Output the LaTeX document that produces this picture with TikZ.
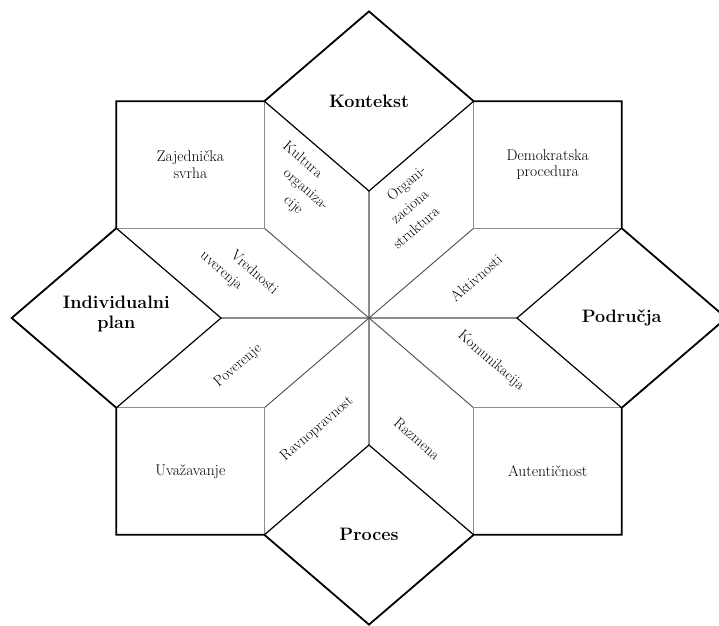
\documentclass[tikz,border=0pt]{standalone}
\begin{document}
\begin{tikzpicture}[
        x=148pt, y=127pt,
        outline/.style={draw=black, line width=1.8pt, line join=miter},
        inneredge/.style={draw=black, line width=1.2pt},
        axisline/.style={draw=black!45, line width=1.1pt},
        spoke/.style={draw=black!70, line width=0.9pt},
        boldlabel/.style={font=\bfseries\fontsize{18}{20}\selectfont, align=center},
        boxlabel/.style={font=\fontsize{15.5}{16.5}\selectfont, align=center},
        petal/.style={font=\fontsize{15}{20}\selectfont, align=left, inner sep=0pt},
        ]
        \useasboundingbox (-369pt,-307pt) rectangle (350pt,318pt);
        \def\dg{0.7071}

        % Points of the star
        \coordinate (C) at (0,0);
        \coordinate (N1) at (0,1);
        \coordinate (E1) at (1,0);
        \coordinate (S1) at (0,-1);
        \coordinate (W1) at (-1,0);
        \coordinate (NE) at ({\dg},{\dg});
        \coordinate (SE) at ({\dg},{-\dg});
        \coordinate (SW) at ({-\dg},{-\dg});
        \coordinate (NW) at ({-\dg},{\dg});
        \coordinate (NNE) at ({\dg},{1+\dg});
        \coordinate (ENE) at ({1+\dg},{\dg});
        \coordinate (ESE) at ({1+\dg},{-\dg});
        \coordinate (SSE) at ({\dg},{-1-\dg});
        \coordinate (SSW) at ({-\dg},{-1-\dg});
        \coordinate (WSW) at ({-1-\dg},{-\dg});
        \coordinate (WNW) at ({-1-\dg},{\dg});
        \coordinate (NNW) at ({-\dg},{1+\dg});
        \coordinate (Ntip) at (0,{1+2*\dg});
        \coordinate (Etip) at ({1+2*\dg},0);
        \coordinate (Stip) at (0,{-1-2*\dg});
        \coordinate (Wtip) at ({-1-2*\dg},0);
        \coordinate (NEc) at ({1+\dg},{1+\dg});
        \coordinate (SEc) at ({1+\dg},{-1-\dg});
        \coordinate (SWc) at ({-1-\dg},{-1-\dg});
        \coordinate (NWc) at ({-1-\dg},{1+\dg});

        % Inner lines
        \foreach \p in {N1,E1,S1,W1} \draw[axisline] (C) -- (\p);
        \foreach \p in {NE,SE,SW,NW} \draw[spoke] (C) -- (\p);
        \draw[axisline] (NNE) -- (NE) -- (ENE);
        \draw[axisline] (ESE) -- (SE) -- (SSE);
        \draw[axisline] (SSW) -- (SW) -- (WSW);
        \draw[axisline] (WNW) -- (NW) -- (NNW);

        % Diamonds
        \draw[inneredge] (NNW) -- (N1) -- (NNE);
        \draw[inneredge] (ENE) -- (E1) -- (ESE);
        \draw[inneredge] (SSE) -- (S1) -- (SSW);
        \draw[inneredge] (WSW) -- (W1) -- (WNW);

        % Outline
        \draw[outline] (Ntip) -- (NNE) -- (NEc) -- (ENE) -- (Etip) -- (ESE)
            -- (SEc) -- (SSE) -- (Stip) -- (SSW) -- (SWc) -- (WSW)
            -- (Wtip) -- (WNW) -- (NWc) -- (NNW) -- cycle;

        % Diamond labels
        \node[boldlabel] (kontekst) at (0,{1+\dg}) {Kontekst};
        \node[boldlabel] (podrucja) at ({1+\dg},0) {Područja};
        \node[boldlabel] (proces) at (0,{-1-\dg}) {Proces};
        \node[boldlabel, yshift=4pt] (plan) at ({-1-\dg},0) {Individualni\\plan};

        % Square labels
        \node[boxlabel] (svrha) at ({-0.5-\dg},{0.5+\dg}) {Zajednička\\svrha};
        \node[boxlabel] (procedura) at ({0.5+\dg},{0.5+\dg}) {Demokratska\\procedura};
        \node[boxlabel] (uvazavanje) at ({-0.5-\dg},{-0.5-\dg}) {Uvažavanje};
        \node[boxlabel] (autenticnost) at ({0.5+\dg},{-0.5-\dg}) {Autentičnost};

        % Petal labels
        \node[petal, rotate=-41] (kultura) at (-70pt,134pt)
            {Kultura\\\hspace*{18pt}organiza-\\\hspace*{36pt}cije};
        \node[petal, rotate=41] (struktura) at (40pt,111pt)
            {\hspace*{27pt}Organi-\\\hspace*{15pt}zaciona\\struktura};
        \node[petal, rotate=-41] (vrednosti) at (-130pt,45pt)
            {\hspace*{23pt}Vrednosti\\uverenja};
        \node[petal, rotate=41] (aktivnosti) at (107pt,40pt) {Aktivnosti};
        \node[petal, rotate=41] (poverenje) at (-131pt,-48pt) {Poverenje};
        \node[petal, rotate=-41] (komunikacija) at (122pt,-43pt) {Komunikacija};
        \node[petal, rotate=41] (ravnopravnost) at (-52pt,-111pt) {Ravnopravnost};
        \node[petal, rotate=-41] (razmena) at (48pt,-121pt) {Razmena};

    \end{tikzpicture}
\end{document}
